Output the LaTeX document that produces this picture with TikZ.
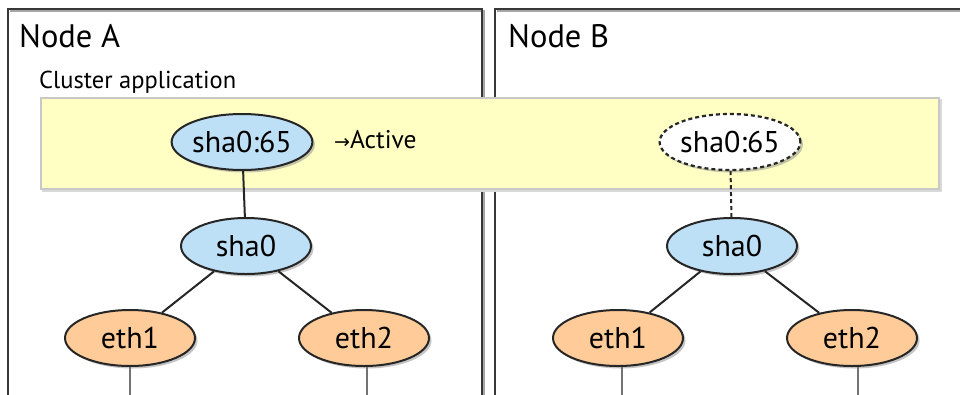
\documentclass[tikz,border=0pt]{standalone}
\usepackage{fontspec}
\setmainfont{PT Sans}
\newfontfamily\symfont{DejaVu Sans}
\usetikzlibrary{shapes.geometric,shadows}
\definecolor{frameC}{RGB}{55,55,55}
\definecolor{appC}{RGB}{255,255,196}
\definecolor{appEdge}{RGB}{200,200,200}
\definecolor{shaC}{RGB}{190,224,246}
\definecolor{ethC}{RGB}{255,204,153}
\begin{document}
\begin{tikzpicture}[x=1pt,y=-1pt,
  frame/.style={draw=frameC, line width=2pt},
  frameshadow/.style={draw=black!35, line width=1.5pt},
  ell/.style={ellipse, draw=black!85, line width=2pt, minimum width=130pt, minimum height=56pt, inner sep=0pt,
    font=\fontsize{30}{32}\selectfont,
    drop shadow={shadow xshift=2.5pt, shadow yshift=-2.5pt, fill=black!45, opacity=0.5}},
  shaE/.style={ell, fill=shaC},
  ethE/.style={ell, fill=ethC},
  ghostE/.style={ell, fill=white, dash pattern=on 4pt off 3pt, line width=2.2pt},
  link/.style={draw=black!85, line width=2pt},
  downlink/.style={draw=black!55, line width=2pt},
  title/.style={anchor=west, inner sep=0pt, font=\fontsize{32.5}{34}\selectfont},
  lbl/.style={anchor=west, inner sep=0pt, font=\fontsize{24.5}{26}\selectfont}
]
\useasboundingbox (0,0) rectangle (960,394);
\begin{scope}
\clip (0,0) rectangle (960,394);
% node frames
\draw[frameshadow] (10,11) -- (484,11) -- (484,400);
\draw[frameshadow] (497,11) -- (970,11);
\draw[frame] (8,400) -- (8,9) -- (482,9) -- (482,400);
\draw[frame] (495,400) -- (495,9) -- (970,9);
\node[title] (tA) at (19,36) {Node A};
\node[title] (tB) at (508,36) {Node B};
% cluster application area
\node[lbl] (capp) at (39,82) {Cluster application};
\draw[draw=black!15, line width=1.5pt] (43,100) rectangle (941,191);
\draw[draw=appEdge, line width=1.5pt, fill=appC] (41,98) rectangle (939,189);
% Node A
\node[shaE] (vA) at (242,142) {sha0:65};
\node[lbl, font=\fontsize{25.5}{28}\selectfont] (act) at (334,140) {{\symfont\fontsize{19}{20}\selectfont →}Active};
\node[shaE] (sA) at (246,246) {sha0};
\node[ethE] (e1A) at (130,338) {eth1};
\node[ethE] (e2A) at (364,338) {eth2};
\coordinate (d1A) at (130,400);
\coordinate (d2A) at (367,400);
% Node B
\node[ghostE] (vB) at (730,142) {sha0:65};
\node[shaE] (sB) at (732,246) {sha0};
\node[ethE] (e1B) at (618,338) {eth1};
\node[ethE] (e2B) at (852,338) {eth2};
\coordinate (d1B) at (622,400);
\coordinate (d2B) at (858,400);
% connectors
\draw[link] (vA) -- (sA);
\draw[link] (sA) -- (e1A);
\draw[link] (sA) -- (e2A);
\draw[link, dash pattern=on 4pt off 3pt] (vB) -- (sB);
\draw[link] (sB) -- (e1B);
\draw[link] (sB) -- (e2B);
\draw[downlink] (e1A) -- (d1A);
\draw[downlink] (e2A.south -| d2A) -- (d2A);
\draw[downlink] (e1B.south -| d1B) -- (d1B);
\draw[downlink] (e2B.south -| d2B) -- (d2B);
\end{scope}
\end{tikzpicture}
\end{document}
